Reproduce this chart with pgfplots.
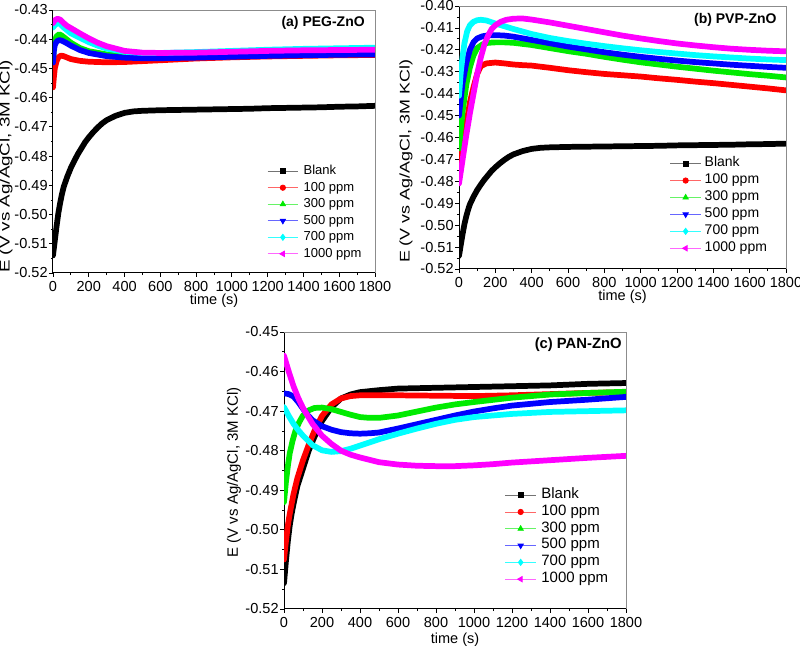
\documentclass[border=0pt]{standalone}
\usepackage{fontspec}
\setmainfont{Liberation Sans}
\usepackage{graphicx}
\usepackage{pgfplots}
\pgfplotsset{compat=1.18}

\definecolor{cblack}{RGB}{0,0,0}
\definecolor{cred}{RGB}{255,0,0}
\definecolor{cgreen}{RGB}{0,235,0}
\definecolor{cblue}{RGB}{0,0,255}
\definecolor{ccyan}{RGB}{0,255,255}
\definecolor{cmag}{RGB}{255,0,255}

\pgfplotsset{
  panel/.style={
    scale only axis, anchor=south west,
    enlargelimits=false,
    xmin=0, xmax=1800, xtick={0,200,...,1800},
    minor x tick num=1, minor y tick num=1,
    axis lines=left, axis line style={-, line width=0.75pt, black},
    tick align=outside, major tick length=3pt, minor tick length=1.6pt,
    tick style={black, line width=0.6pt},
    xtick pos=bottom, ytick pos=left,
    /pgf/number format/assume math mode=true,
    tick label style={font=\fontsize{10.9}{13}\selectfont},
    yticklabel style={xshift=2.5pt, /pgf/number format/.cd, fixed, fixed zerofill, precision=2},
    xticklabel style={/pgf/number format/1000 sep={}},
    xlabel={time (s)},
    label style={font=\fontsize{10.9}{13}\selectfont},
    xlabel style={anchor=center},
    ylabel style={anchor=center},
    legend cell align=left,
    legend image code/.code={%
      \draw[#1, mark=none] (0pt,0pt) -- (23pt,0pt);
      \path[#1, draw=none] plot coordinates {(11.5pt,0pt)};},
  },
  dat/.style={line width=4.3pt, line join=round, line cap=round, mark=none, forget plot},
  lblack/.style={draw=black!55, line width=0.6pt, mark=square*, mark size=1.8pt, mark options={draw=black, fill=black, solid}},
  lred/.style={draw=cred!60, line width=0.6pt, mark=*, mark size=2pt, mark options={draw=cred, fill=cred, solid}},
  lgreen/.style={draw=cgreen!60, line width=0.6pt, mark=triangle*, mark size=2.3pt, mark options={draw=cgreen, fill=cgreen, solid}},
  lblue/.style={draw=cblue!60, line width=0.6pt, mark=triangle*, mark size=2.3pt, mark options={draw=cblue, fill=cblue, solid, rotate=180}},
  lcyan/.style={draw=ccyan!80, line width=0.6pt, mark=diamond*, mark size=2.3pt, mark options={draw=ccyan, fill=ccyan, solid}},
  lmag/.style={draw=cmag!60, line width=0.6pt, mark=triangle*, mark size=2.3pt, mark options={draw=cmag, fill=cmag, solid, rotate=90}},
}

% ---------------- Panel (a) PEG-ZnO ----------------
\pgfplotstableread{
t E
0 -0.5140
10 -0.5090
20 -0.5040
30 -0.4995
40 -0.4960
50 -0.4930
60 -0.4905
80 -0.4870
100 -0.4840
120 -0.4815
140 -0.4792
160 -0.4772
180 -0.4752
200 -0.4736
225 -0.4718
250 -0.4702
275 -0.4688
300 -0.4677
350 -0.4662
400 -0.4652
450 -0.4647
500 -0.4645
600 -0.4643
700 -0.4642
800 -0.4641
900 -0.4640
1000 -0.4639
1100 -0.4638
1200 -0.4636
1300 -0.4635
1400 -0.4634
1500 -0.4633
1600 -0.4631
1700 -0.4630
1800 -0.4628
}\Ablank
\pgfplotstableread{
t E
0 -0.4565
5 -0.4530
10 -0.4500
20 -0.4475
30 -0.4462
45 -0.4456
60 -0.4458
80 -0.4463
100 -0.4468
150 -0.4474
200 -0.4477
300 -0.4479
400 -0.4478
500 -0.4475
600 -0.4472
800 -0.4466
1000 -0.4462
1200 -0.4459
1400 -0.4457
1600 -0.4455
1800 -0.4454
}\Ared
\pgfplotstableread{
t E
0 -0.4470
5 -0.4430
10 -0.4405
20 -0.4390
35 -0.4383
50 -0.4388
75 -0.4400
100 -0.4412
150 -0.4430
200 -0.4441
300 -0.4452
400 -0.4457
500 -0.4458
600 -0.4457
800 -0.4453
1000 -0.4450
1200 -0.4448
1400 -0.4446
1600 -0.4445
1800 -0.4444
}\Agreen
\pgfplotstableread{
t E
0 -0.4480
5 -0.4440
10 -0.4420
20 -0.4408
35 -0.4403
50 -0.4405
75 -0.4413
100 -0.4422
150 -0.4437
200 -0.4447
300 -0.4458
400 -0.4463
500 -0.4465
600 -0.4465
800 -0.4463
1000 -0.4460
1200 -0.4457
1400 -0.4455
1600 -0.4453
1800 -0.4452
}\Ablue
\pgfplotstableread{
t E
0 -0.4360
10 -0.4352
25 -0.4345
40 -0.4348
60 -0.4360
80 -0.4370
100 -0.4380
150 -0.4395
200 -0.4410
250 -0.4422
300 -0.4432
400 -0.4443
500 -0.4447
600 -0.4447
800 -0.4444
1000 -0.4440
1200 -0.4436
1400 -0.4433
1600 -0.4431
1800 -0.4429
}\Acyan
\pgfplotstableread{
t E
0 -0.4345
10 -0.4335
25 -0.4330
40 -0.4333
60 -0.4345
80 -0.4355
100 -0.4362
150 -0.4380
200 -0.4397
250 -0.4412
300 -0.4424
400 -0.4440
500 -0.4446
600 -0.4447
800 -0.4446
1000 -0.4443
1200 -0.4440
1400 -0.4438
1600 -0.4437
1800 -0.4436
}\Amag

% ---------------- Panel (b) PVP-ZnO ----------------
\pgfplotstableread{
t E
0 -0.4720
20 -0.4640
40 -0.4540
60 -0.4440
80 -0.4370
100 -0.4310
120 -0.4275
150 -0.4262
200 -0.4258
250 -0.4262
300 -0.4267
350 -0.4270
400 -0.4272
500 -0.4282
600 -0.4293
700 -0.4302
800 -0.4310
900 -0.4316
1000 -0.4322
1100 -0.4330
1200 -0.4337
1300 -0.4345
1400 -0.4352
1500 -0.4360
1600 -0.4368
1700 -0.4376
1800 -0.4385
}\Bred
\pgfplotstableread{
t E
0 -0.4650
10 -0.4560
20 -0.4480
40 -0.4360
60 -0.4280
80 -0.4225
100 -0.4192
130 -0.4175
160 -0.4168
200 -0.4166
250 -0.4166
300 -0.4168
400 -0.4178
500 -0.4192
600 -0.4206
700 -0.4218
800 -0.4232
900 -0.4245
1000 -0.4257
1100 -0.4267
1200 -0.4277
1300 -0.4286
1400 -0.4295
1500 -0.4303
1600 -0.4311
1700 -0.4318
1800 -0.4326
}\Bgreen
\pgfplotstableread{
t E
0 -0.4500
10 -0.4420
20 -0.4350
40 -0.4260
60 -0.4200
80 -0.4165
100 -0.4148
130 -0.4138
160 -0.4134
200 -0.4133
250 -0.4135
300 -0.4140
400 -0.4155
500 -0.4170
600 -0.4185
700 -0.4198
800 -0.4211
900 -0.4222
1000 -0.4232
1100 -0.4241
1200 -0.4249
1300 -0.4256
1400 -0.4262
1500 -0.4268
1600 -0.4273
1700 -0.4278
1800 -0.4282
}\Bblue
\pgfplotstableread{
t E
0 -0.4410
10 -0.4300
20 -0.4230
30 -0.4170
45 -0.4115
60 -0.4088
80 -0.4072
100 -0.4065
120 -0.4063
150 -0.4066
200 -0.4080
300 -0.4105
400 -0.4128
500 -0.4146
600 -0.4160
700 -0.4172
800 -0.4183
900 -0.4193
1000 -0.4202
1100 -0.4210
1200 -0.4217
1300 -0.4224
1400 -0.4230
1500 -0.4235
1600 -0.4240
1700 -0.4244
1800 -0.4247
}\Bcyan
\pgfplotstableread{
t E
0 -0.4810
20 -0.4700
40 -0.4590
60 -0.4490
80 -0.4400
100 -0.4310
120 -0.4235
140 -0.4175
160 -0.4135
180 -0.4105
200 -0.4088
230 -0.4072
260 -0.4063
300 -0.4058
350 -0.4057
400 -0.4062
500 -0.4075
600 -0.4090
700 -0.4105
800 -0.4120
900 -0.4135
1000 -0.4148
1100 -0.4160
1200 -0.4171
1300 -0.4180
1400 -0.4188
1500 -0.4195
1600 -0.4200
1700 -0.4204
1800 -0.4207
}\Bmag

% ---------------- Panel (c) PAN-ZnO ----------------
\pgfplotstableread{
t E
0 -0.5135
10 -0.5080
20 -0.5030
30 -0.4990
40 -0.4960
50 -0.4935
70 -0.4890
100 -0.4845
130 -0.4800
160 -0.4765
200 -0.4725
250 -0.4690
300 -0.4668
350 -0.4658
400 -0.4652
500 -0.4647
600 -0.4643
800 -0.4641
1000 -0.4639
1200 -0.4637
1400 -0.4635
1600 -0.4631
1800 -0.4629
}\Cblank
\pgfplotstableread{
t E
0 -0.5075
10 -0.5030
20 -0.4990
30 -0.4960
50 -0.4910
70 -0.4870
100 -0.4824
130 -0.4785
160 -0.4750
200 -0.4712
250 -0.4683
300 -0.4668
350 -0.4662
400 -0.4660
600 -0.4660
800 -0.4661
1000 -0.4662
1200 -0.4660
1400 -0.4657
1600 -0.4654
1800 -0.4652
}\Cred
\pgfplotstableread{
t E
0 -0.4930
10 -0.4880
20 -0.4840
30 -0.4807
45 -0.4775
60 -0.4750
80 -0.4728
100 -0.4711
130 -0.4698
160 -0.4692
200 -0.4691
250 -0.4695
300 -0.4702
350 -0.4709
400 -0.4715
450 -0.4717
500 -0.4717
600 -0.4711
700 -0.4701
800 -0.4691
900 -0.4683
1000 -0.4677
1200 -0.4666
1400 -0.4658
1600 -0.4654
1800 -0.4651
}\Cgreen
\pgfplotstableread{
t E
0 -0.4655
25 -0.4657
50 -0.4663
75 -0.4677
100 -0.4694
125 -0.4710
150 -0.4723
200 -0.4738
250 -0.4747
300 -0.4753
350 -0.4756
400 -0.4757
450 -0.4756
500 -0.4754
600 -0.4744
700 -0.4733
800 -0.4722
900 -0.4711
1000 -0.4701
1100 -0.4693
1200 -0.4686
1400 -0.4677
1600 -0.4671
1800 -0.4664
}\Cblue
\pgfplotstableread{
t E
0 -0.4690
25 -0.4712
50 -0.4732
75 -0.4748
100 -0.4762
150 -0.4786
200 -0.4799
250 -0.4803
300 -0.4801
350 -0.4795
400 -0.4787
500 -0.4771
600 -0.4757
700 -0.4744
800 -0.4732
900 -0.4722
1000 -0.4715
1200 -0.4707
1400 -0.4702
1600 -0.4700
1800 -0.4698
}\Ccyan
\pgfplotstableread{
t E
0 -0.4560
25 -0.4600
50 -0.4637
75 -0.4667
100 -0.4692
150 -0.4732
200 -0.4762
250 -0.4783
300 -0.4800
350 -0.4810
400 -0.4817
500 -0.4829
600 -0.4835
700 -0.4838
800 -0.4839
900 -0.4839
1000 -0.4837
1100 -0.4834
1200 -0.4830
1400 -0.4824
1600 -0.4818
1800 -0.4813
}\Cmag

\begin{document}
\begin{tikzpicture}
\useasboundingbox (0pt,0pt) rectangle (600pt,486pt);

% (a)
\begin{axis}[panel, name=pa,
  at={(39.75pt,281.25pt)}, width=241.5pt, height=197.25pt,
  ymin=-0.52, ymax=-0.43,
  ytick={-0.52,-0.51,-0.50,-0.49,-0.48,-0.47,-0.46,-0.45,-0.44,-0.43},
  xlabel style={at={(rel axis cs:0.5,-0.105)}},
  ylabel={\scalebox{1.34}[1]{E (V vs Ag/AgCl, 3M KCl)}},
  ylabel style={at={(rel axis cs:-0.146,0.405)}, font=\fontsize{10.5}{12}\selectfont},
  legend style={at={(rel axis cs:0.665,0.4125)}, anchor=north west, draw=none, fill=none,
    inner sep=0pt, outer sep=0pt, row sep=2.4pt, font=\fontsize{9.75}{11}\selectfont,
    nodes={inner sep=0pt, text height=0.75em, text depth=0.25em},
    /tikz/every odd column/.append style={column sep=3.75pt}},
]
\addplot[dat, cblack] table {\Ablank};
\addplot[dat, cred] table {\Ared};
\addplot[dat, cgreen] table {\Agreen};
\addplot[dat, cblue] table {\Ablue};
\addplot[dat, ccyan] table {\Acyan};
\addplot[dat, cmag] table {\Amag};
\addlegendimage{lblack}\addlegendentry{Blank}
\addlegendimage{lred}\addlegendentry{100 ppm}
\addlegendimage{lgreen}\addlegendentry{300 ppm}
\addlegendimage{lblue}\addlegendentry{500 ppm}
\addlegendimage{lcyan}\addlegendentry{700 ppm}
\addlegendimage{lmag}\addlegendentry{1000 ppm}
\node[anchor=east, inner sep=0pt, font=\bfseries\fontsize{10.5}{12}\selectfont] at (rel axis cs:0.969,0.9506) {(a) PEG-ZnO};
\end{axis}
\draw[black!45, line width=0.6pt] (pa.north west) -- (pa.north east) -- (pa.south east);

% (b)
\begin{axis}[panel, name=pb,
  at={(344.25pt,284.25pt)}, width=245.25pt, height=197.25pt,
  ymin=-0.52, ymax=-0.40,
  ytick={-0.52,-0.51,-0.50,-0.49,-0.48,-0.47,-0.46,-0.45,-0.44,-0.43,-0.42,-0.41,-0.40},
  xlabel style={at={(rel axis cs:0.5,-0.1065)}},
  ylabel={\scalebox{1.28}[1]{E (V vs Ag/AgCl, 3M KCl)}},
  ylabel style={at={(rel axis cs:-0.162,0.409)}, font=\fontsize{10.5}{12}\selectfont},
  legend style={at={(rel axis cs:0.645,0.426)}, anchor=north west, draw=none, fill=none,
    inner sep=0pt, outer sep=0pt, row sep=2.7pt, font=\fontsize{10.5}{12}\selectfont,
    nodes={inner sep=0pt, text height=0.75em, text depth=0.25em},
    /tikz/every odd column/.append style={column sep=2.5pt}},
]
\addplot[dat, cblack] table {\Ablank};
\addplot[dat, cred] table {\Bred};
\addplot[dat, cgreen] table {\Bgreen};
\addplot[dat, cblue] table {\Bblue};
\addplot[dat, ccyan] table {\Bcyan};
\addplot[dat, cmag] table {\Bmag};
\addlegendimage{lblack}\addlegendentry{Blank}
\addlegendimage{lred}\addlegendentry{100 ppm}
\addlegendimage{lgreen}\addlegendentry{300 ppm}
\addlegendimage{lblue}\addlegendentry{500 ppm}
\addlegendimage{lcyan}\addlegendentry{700 ppm}
\addlegendimage{lmag}\addlegendentry{1000 ppm}
\node[anchor=east, inner sep=0pt, font=\bfseries\fontsize{10.5}{12}\selectfont] at (rel axis cs:0.972,0.947) {(b) PVP-ZnO};
\end{axis}
\draw[black!45, line width=0.6pt] (pb.north west) -- (pb.north east) -- (pb.south east);

% (c)
\begin{axis}[panel, name=pc,
  at={(213pt,29.25pt)}, width=256.5pt, height=207.75pt,
  ymin=-0.52, ymax=-0.45,
  ytick={-0.52,-0.51,-0.50,-0.49,-0.48,-0.47,-0.46,-0.45},
  xlabel style={at={(rel axis cs:0.5,-0.112)}},
  ylabel={E (V vs Ag/AgCl, 3M KCl)},
  ylabel style={at={(rel axis cs:-0.146,0.493)}, font=\fontsize{11.25}{13}\selectfont},
  legend style={at={(rel axis cs:0.646,0.435)}, anchor=north west, draw=none, fill=none,
    inner sep=0pt, outer sep=0pt, row sep=2.6pt, font=\fontsize{11.25}{13}\selectfont,
    nodes={inner sep=0pt, text height=0.75em, text depth=0.25em},
    /tikz/every odd column/.append style={column sep=3.75pt}},
]
\addplot[dat, cblack] table {\Cblank};
\addplot[dat, cred] table {\Cred};
\addplot[dat, cgreen] table {\Cgreen};
\addplot[dat, cblue] table {\Cblue};
\addplot[dat, ccyan] table {\Ccyan};
\addplot[dat, cmag] table {\Cmag};
\addlegendimage{lblack}\addlegendentry{Blank}
\addlegendimage{lred}\addlegendentry{100 ppm}
\addlegendimage{lgreen}\addlegendentry{300 ppm}
\addlegendimage{lblue}\addlegendentry{500 ppm}
\addlegendimage{lcyan}\addlegendentry{700 ppm}
\addlegendimage{lmag}\addlegendentry{1000 ppm}
\node[anchor=east, inner sep=0pt, font=\bfseries\fontsize{11.1}{13}\selectfont] at (rel axis cs:0.988,0.953) {(c) PAN-ZnO};
\end{axis}
\draw[black!45, line width=0.6pt] (pc.north west) -- (pc.north east) -- (pc.south east);
\end{tikzpicture}
\end{document}
